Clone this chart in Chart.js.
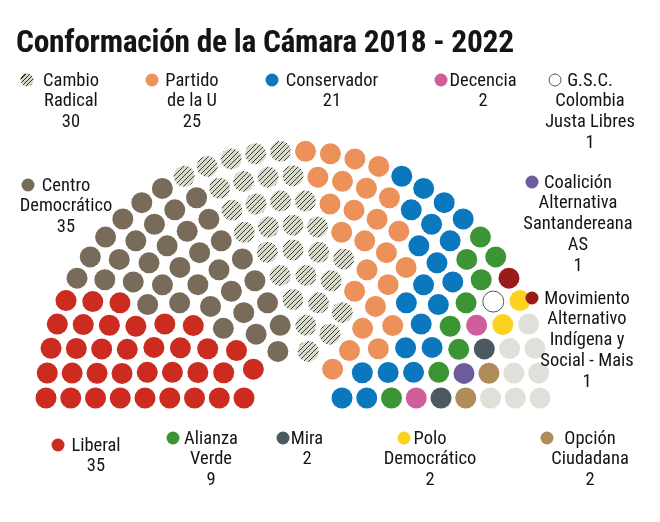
<!DOCTYPE html>
<html>
<head>
<meta charset="utf-8">
<script src="https://cdn.jsdelivr.net/npm/chart.js@4.4.1/dist/chart.umd.min.js"></script>
<style>
  body { margin: 0; background: #fff; }
  #wrap { position: relative; width: 660px; height: 522px; overflow: hidden;
    font-family: "Liberation Sans Narrow", "Roboto Condensed", "DejaVu Sans Condensed", sans-serif; color: #151515; }
  #seats { position: absolute; left: 0; top: 0; }
  .title { position: absolute; left: 16px; top: 23px; font-size: 31.5px; font-weight: bold; white-space: nowrap; letter-spacing: -0.3px; }
  .item { position: absolute; text-align: center; font-size: 18.5px; line-height: 20.8px; white-space: nowrap; transform: translateX(-50%); }
  .mark { position: absolute; width: 13px; height: 13px; border-radius: 50%; transform: translate(-50%, -50%); box-sizing: border-box; }
</style>
</head>
<body>
<div id="wrap">
  <canvas id="seats" width="660" height="522"></canvas>
  <div class="title">Conformación de la Cámara 2018 - 2022</div>
</div>
<script>
// seats per party, in the order they fill the hemicycle from left to right
const parties = ['Liberal', 'Centro Democrático', 'Cambio Radical', 'Partido de la U', 'Conservador',
  'Alianza Verde', 'Decencia', 'G.S.C. Colombia Justa Libres', 'Movimiento Alternativo Indígena y Social - Mais',
  'Coalición Alternativa Santandereana AS', 'Mira', 'Polo Democrático', 'Opción Ciudadana', 'Otros'];
const seats = [35, 35, 30, 25, 21, 9, 2, 1, 1, 1, 2, 2, 2, 8];
const colors = ['#cc2b1f', '#786b59', 'hatch', '#ec915a', '#0b78be', '#3b9534', '#cf5e9c', '#ffffff',
  '#981c17', '#6c5b9d', '#4a5962', '#fcd21e', '#b08c5a', '#dfe0da'];
// legend text, one entry per line (null = no legend entry)
const legendLines = [['Liberal'], ['Centro', 'Democrático'], ['Cambio', 'Radical'], ['Partido', 'de la U'], ['Conservador'],
  ['Alianza', 'Verde'], ['Decencia'], ['G.S.C.', 'Colombia', 'Justa Libres'], ['Movimiento', 'Alternativo', 'Indígena y', 'Social - Mais'],
  ['Coalición', 'Alternativa', 'Santandereana', 'AS'], ['Mira'], ['Polo', 'Democrático'], ['Opción', 'Ciudadana'], null];

// legend placement: text centre x, first line centre y, marker x
const legendPos = [
  [96, 445, 58], [66, 185, 28], [71, 80, 27], [192, 80, 152], [332, 80, 272],
  [211, 438, 173], [483, 80, 441], [590, 80, 555], [587, 298, 532],
  [578, 182, 532], [307, 438, 283], [430, 438, 404], [590, 438, 547], null
];

function hatchPattern() {
  const c = document.createElement('canvas');
  c.width = 5; c.height = 5;
  const g = c.getContext('2d');
  g.fillStyle = '#dadccb';
  g.fillRect(0, 0, 5, 5);
  g.strokeStyle = '#2a2a2a';
  g.lineWidth = 0.9;
  g.beginPath();
  g.moveTo(0, 5); g.lineTo(5, 0);
  g.moveTo(-1, 1); g.lineTo(1, -1);
  g.moveTo(4, 6); g.lineTo(6, 4);
  g.stroke();
  return g.createPattern(c, 'repeat');
}

const sum = arr => arr.reduce((a, b) => a + b, 0);

// concentric rows, seat count per row proportional to its radius;
// seats are ordered by angle, inner rows pulled ahead (more so on the right)
function layoutSeats(total, rows, innerRatio, twistLeft, twistRight) {
  const radii = [];
  for (let i = 0; i < rows; i++) radii.push(innerRatio + i * (1 - innerRatio) / (rows - 1));
  const sumR = sum(radii);
  const counts = radii.map(r => Math.round(total * r / sumR));
  counts[rows - 1] += total - sum(counts);
  const slots = [];
  radii.forEach((r, i) => {
    const n = counts[i];
    for (let k = 0; k < n; k++) {
      const a = Math.PI * (1 - k / (n - 1));
      const twist = twistLeft + (twistRight - twistLeft) * (1 - a / Math.PI);
      slots.push({ x: r * Math.cos(a), y: r * Math.sin(a), key: a + twist * (1 - r), r });
    }
  });
  slots.sort((p, q) => (q.key - p.key) || (p.r - q.r));
  return slots;
}

const total = sum(seats);
const slots = layoutSeats(total, 9, 49 / 247, 0.3, 1.2);
const hatch = hatchPattern();

let cursor = 0;
const datasets = parties.map((name, i) => {
  const pts = slots.slice(cursor, cursor + seats[i]).map(s => ({ x: s.x, y: s.y }));
  cursor += seats[i];
  const fill = colors[i] === 'hatch' ? hatch : colors[i];
  const hollow = colors[i] === '#ffffff';
  return {
    label: name,
    data: pts,
    pointRadius: 10.5,
    pointHoverRadius: 10.5,
    backgroundColor: fill,
    borderColor: hollow ? '#555' : fill,
    borderWidth: hollow ? 1 : 0
  };
});

// one unit = outer radius (247px), hemicycle centre at (293, 398)
const unit = 247, cx = 293, cy = 398, W = 660, H = 522;
new Chart(document.getElementById('seats'), {
  type: 'scatter',
  data: { datasets },
  options: {
    responsive: false,
    animation: false,
    events: [],
    layout: { padding: 0, autoPadding: false },
    plugins: { legend: { display: false }, tooltip: { enabled: false } },
    scales: {
      x: { type: 'linear', display: false, min: -cx / unit, max: (W - cx) / unit },
      y: { type: 'linear', display: false, min: -(H - cy) / unit, max: cy / unit }
    }
  }
});

const wrap = document.getElementById('wrap');
legendLines.forEach((lines, i) => {
  if (!lines) return;
  const [tx, ty, mx] = legendPos[i];
  const item = document.createElement('div');
  item.className = 'item';
  item.style.left = tx + 'px';
  item.style.top = (ty - 10.4) + 'px';
  item.innerHTML = lines.concat(String(seats[i])).join('<br>');
  wrap.appendChild(item);

  const mark = document.createElement('div');
  mark.className = 'mark';
  mark.style.left = mx + 'px';
  mark.style.top = ty + 'px';
  if (colors[i] === 'hatch') {
    mark.style.background = 'repeating-linear-gradient(-45deg, #dadccb 0 2px, #2a2a2a 2px 3px)';
  } else if (colors[i] === '#ffffff') {
    mark.style.background = '#fff';
    mark.style.border = '1px solid #555';
  } else {
    mark.style.background = colors[i];
  }
  wrap.appendChild(mark);
});
</script>
</body>
</html>
